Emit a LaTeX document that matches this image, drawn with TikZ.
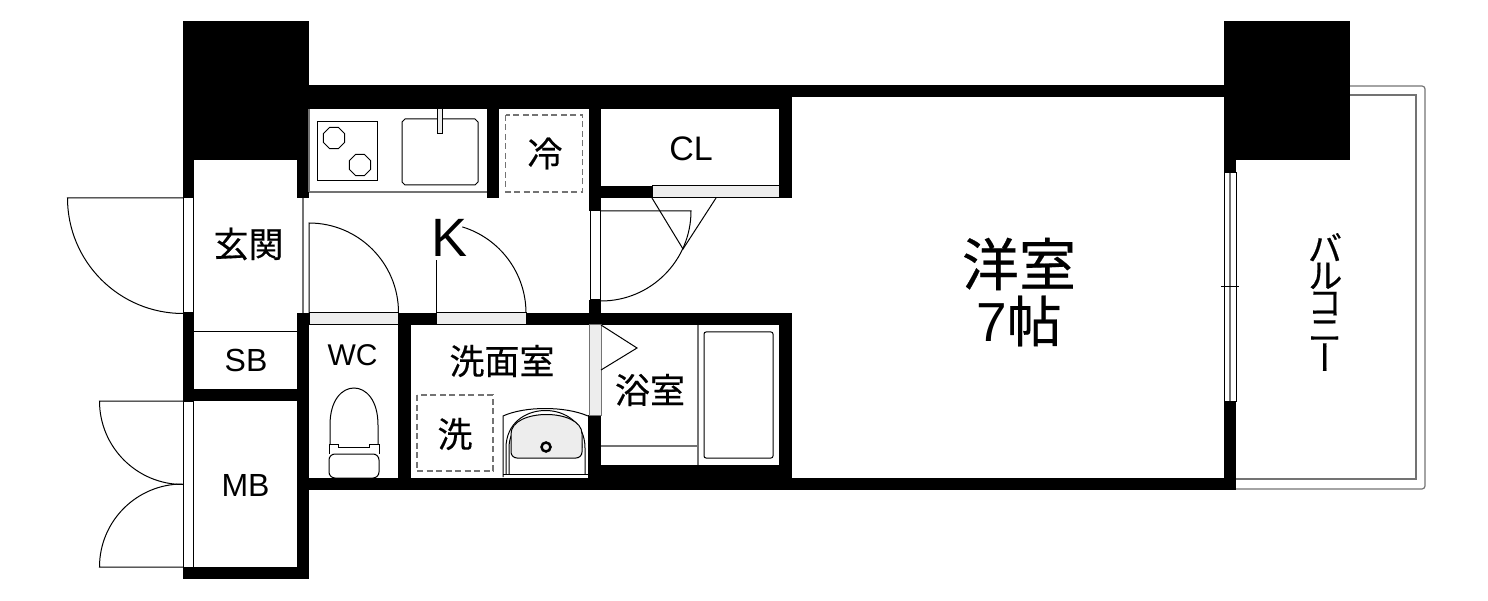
\documentclass[tikz,border=0pt]{standalone}
\usepackage{fontspec}
\usetikzlibrary{shapes.geometric}
\setmainfont{Liberation Sans}
\newfontfamily\cjk[FakeBold=0.4]{Noto Sans CJK JP}
\newfontfamily\cjkvert[FakeBold=0.4,RawFeature=+vert]{Noto Sans CJK JP}
\definecolor{gapgray}{gray}{0.93}
\definecolor{linegray}{gray}{0.45}

\begin{document}
\begin{tikzpicture}[
		x=1pt, y=1pt, yscale=-1,
		every node/.style={inner sep=0pt},
		wall/.style={fill=black},
		thin line/.style={draw=black, line width=1pt},
		gray line/.style={draw=linegray, line width=1.2pt},
		gap/.style={draw=black, line width=1pt, fill=gapgray},
		opening/.style={draw=black, line width=1pt, fill=white},
		dashbox/.style={draw=linegray, line width=1.2pt, dash pattern=on 6pt off 3.5pt},
		burner/.style={draw, regular polygon, regular polygon sides=8, minimum size=23pt, line width=1pt},
		latin/.style={font=\fontsize{32}{32}\selectfont},
		kanji/.style={font=\cjk\fontsize{35}{35}\selectfont}
	]
  \useasboundingbox (0,0) rectangle (1488,601);
  % balcony
  \draw [gray line, rounded corners=3pt] (1350,86) -- (1425,86) -- (1425,489) -- (1236,489);
  \draw [gray line] (1350,95) -- (1416,95) -- (1416,479) -- (1236,479);
  % walls
  \fill [wall] (183,21) rectangle (309,160);
  \fill [wall] (1224,21) rectangle (1350,160);
  \fill [wall] (309,85) rectangle (1224,97);
  \fill [wall] (309,97) rectangle (792,109);
  \fill [wall] (183,160) rectangle (194,198);
  \fill [wall] (297,160) rectangle (309,198);
  \fill [wall] (183,313) rectangle (194,401);
  \fill [wall] (183,389) rectangle (309,401);
  \fill [wall] (183,567) rectangle (309,579);
  \fill [wall] (297,313) rectangle (309,579);
  \fill [wall] (398,313) rectangle (411,490);
  \fill [wall] (309,478) rectangle (1236,490);
  \fill [wall] (398,313) rectangle (436,325);
  \fill [wall] (526,313) rectangle (792,325);
  \fill [wall] (487,109) rectangle (499,198);
  \fill [wall] (589,109) rectangle (601,211);
  \fill [wall] (589,300) rectangle (601,325);
  \fill [wall] (601,186) rectangle (652,198);
  \fill [wall] (779,97) rectangle (792,198);
  \fill [wall] (779,313) rectangle (792,490);
  \fill [wall] (588,415) rectangle (601,490);
  \fill [wall] (601,465) rectangle (792,490);
  \fill [wall] (1224,160) rectangle (1236,173);
  \fill [wall] (1224,401) rectangle (1236,490);
  % openings
  \draw [opening] (183.5,198) rectangle (193.5,313);
  \draw [opening] (183.5,401) rectangle (193.5,567);
  \draw [opening] (590,211) rectangle (600.5,300);
  \draw [opening] (1224,173) rectangle (1236,401);
  \draw [gray line] (1230,173) -- (1230,401);
  \draw [thin line] (1221,287) -- (1239,287);
  \draw [gap] (309,313) rectangle (398,324.5);
  \draw [gap] (436,313) rectangle (526,324.5);
  \draw [gap] (652,186) rectangle (779,198);
  \draw [gap, draw=linegray] (589,325) rectangle (601,415);
  % door leaves
  \draw [thin line] (183,198) -- (67.5,198) arc (180:90:115.5);
  \draw [thin line] (183,401) -- (99.5,401) arc (180:90:83.5);
  \draw [thin line] (183,567) -- (99.5,567) arc (180:270:83);
  \draw [thin line] (309,313) -- (309,223) arc (-90:0:89.5);
  \draw [thin line] (436,313) -- (436,260);
  \draw [thin line] (462.3,226.9) arc (-73:0:90);
  \draw [thin line] (601,211) -- (691,211) arc (0:90:90);
  \draw [thin line] (652,198) -- (683,249) -- (716,198);
  \draw [thin line] (601,325) -- (637,348) -- (601,370);
  % thin partitions
  \draw [gray line] (303,198) -- (303,313);
  \draw [thin line] (194,332) -- (297,332);
  % kitchen
  \draw [gray line] (309,192) -- (487,192);
  \draw [gray line] (309,109) -- (309,192);
  \draw [thin line] (317,122) rectangle (377,181);
  \node (burnerone) [burner] at (334,138) {};
  \node (burnertwo) [burner] at (360,165) {};
  \draw [thin line] (405,119) -- (475,119) -- (478,122) -- (478,182) -- (475,185) -- (405,185) -- (402,182) -- (402,122) -- cycle;
  \draw [thin line, fill=gapgray] (437,109) rectangle (442,134);
  \draw [dashbox] (505.5,115) rectangle (582.5,192);
  % bath
  \draw [gray line] (601,446) -- (698,446);
  \draw [gray line] (698,325) -- (698,465);
  \draw [thin line, rounded corners=2pt] (704,332) rectangle (773,458);
  % washroom
  \draw [dashbox] (417,395) rectangle (493,471);
  \draw [thin line] (503,477) -- (503,416) .. controls (525,406) and (565,406) .. (588,416);
  \draw [thin line] (503,474) -- (588,474);
  \draw [thin line] (506,474) -- (506,448) .. controls (506,398) and (585,398) .. (585,448) -- (585,474);
  \draw [thin line] (509,474) -- (509,448) .. controls (509,404) and (582,404) .. (582,448);
  \draw [thin line, fill=gapgray, rounded corners=6pt] (511,458) -- (511,440) .. controls (511,408) and (582,408) .. (582,440) -- (582,458) -- cycle;
  \node (drain) [draw, circle, minimum size=9pt, line width=2.5pt] at (546,447) {};
  % toilet
  \draw [thin line] (330,444) -- (330,425) .. controls (330,400) and (342,388) .. (354,388) .. controls (366,388) and (378,400) .. (378,425) -- (378,444);
  \draw [thin line] (329,454) -- (329,444) -- (338,444) -- (338,447) -- (369,447) -- (369,444) -- (379,444) -- (379,454);
  \draw [thin line, rounded corners=6pt] (329,454) -- (329,478) -- (379,478) -- (379,454) -- cycle;
  % labels
  \node (kitchen) [font=\fontsize{54}{54}\selectfont] at (450,238) {K};
  \node (entrance) [kanji] at (248.5,244) {玄関};
  \node (sb) [latin] at (246,360.5) {SB};
  \node (wc) [latin, font=\fontsize{30}{30}\selectfont] at (352.5,355.5) {WC};
  \node (mb) [latin] at (245.5,485) {MB};
  \node (cl) [latin, font=\fontsize{34}{34}\selectfont] at (691,148.5) {CL};
  \node (fridge) [kanji] at (545,153.5) {冷};
  \node (washroom) [kanji] at (502,361) {洗面室};
  \node (washer) [kanji] at (455,434) {洗};
  \node (bathroom) [kanji] at (650,390) {浴室};
  \node (room) [font=\cjk\fontsize{57}{57}\selectfont] at (1019,264) {洋室};
  \node (roomsize) [font=\fontsize{55}{55}\selectfont] at (1019,321) {7{\cjk 帖}};
  \node (balcony) [align=center, font=\cjkvert\fontsize{35}{27}\selectfont] at (1325,302) {バ\\ル\\コ\\ニ\\ー};
\end{tikzpicture}
\end{document}
